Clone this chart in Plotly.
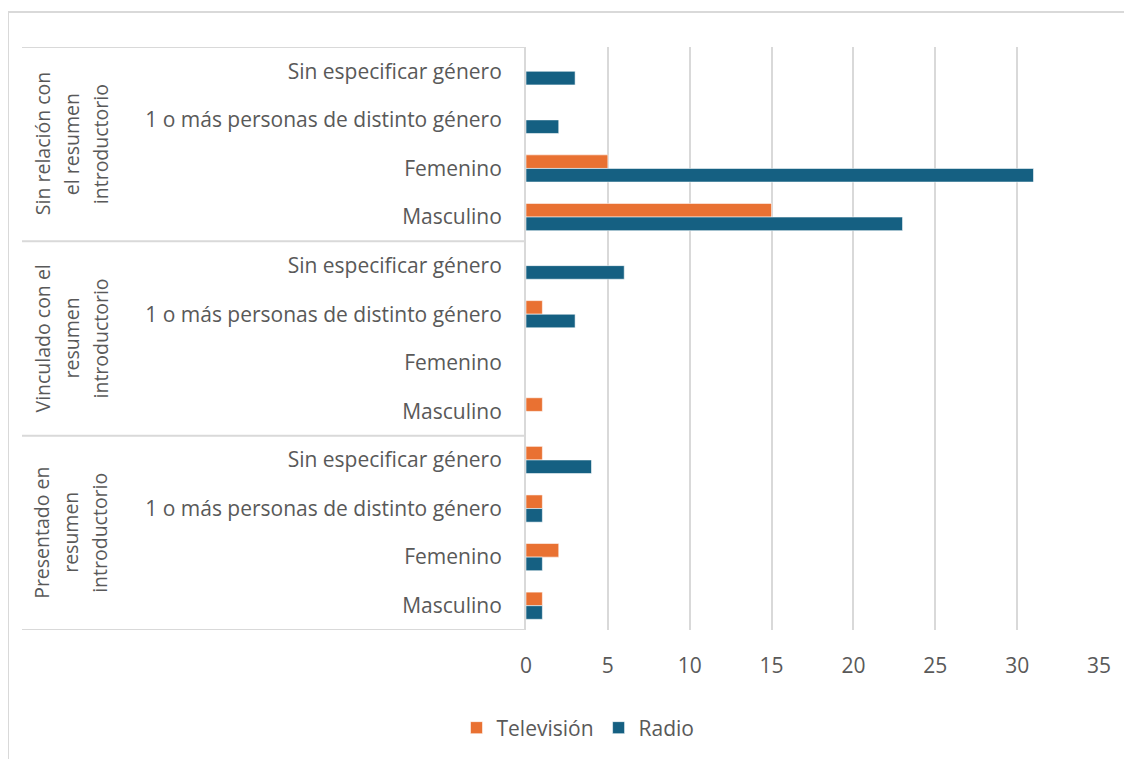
import plotly.graph_objects as go

# categories listed top to bottom, as they appear in the chart
group_lines = [
    ["Sin relación con", "el resumen", "introductorio"],
    ["Vinculado con el", "resumen", "introductorio"],
    ["Presentado en", "resumen", "introductorio"],
]
categories = [
    "Sin especificar género",
    "1 o más personas de distinto género",
    "Femenino",
    "Masculino",
]
television = [0, 0, 5, 15,   0, 1, 0, 1,   1, 1, 2, 1]
radio = [3, 2, 31, 23,   6, 3, 0, 0,   4, 1, 1, 1]
x_ticks = [0, 5, 10, 15, 20, 25, 30, 35]

ORANGE = "#E97132"
BLUE = "#156082"
GREY_TXT = "#595959"
GREY_LINE = "#D9D9D9"
FONT = "Open Sans"
FS = 21          # tick labels / legend
FS_GROUP = 19.5  # rotated group labels

n_cat = len(categories)
labels = [c for g in group_lines for c in categories]
ypos = list(range(len(labels)))

fig = go.Figure()
fig.add_trace(go.Bar(y=ypos, x=television, orientation="h", name="Televisión",
                     marker=dict(color=ORANGE, line=dict(color="rgba(255,255,255,0.7)", width=0.8))))
fig.add_trace(go.Bar(y=ypos, x=radio, orientation="h", name="Radio",
                     marker=dict(color=BLUE, line=dict(color="rgba(255,255,255,0.7)", width=0.8))))

# page body has an 8px margin, so work in screen pixels and shift
OFF = 8
W, H = 1132 - 2 * OFF, 767 - 2 * OFF
L, R, T, B = 526 - OFF, 1099 - OFF, 47 - OFF, 631 - OFF
def px_x(p):
    return (p - OFF - L) / (R - L)
def px_y(p):
    return (B - (p - OFF)) / (B - T)

shapes = []
# outer chart border (top and left visible)
shapes.append(dict(type="line", xref="paper", yref="paper", x0=px_x(8), x1=px_x(1140),
                   y0=px_y(12), y1=px_y(12), line=dict(color=GREY_LINE, width=2)))
shapes.append(dict(type="line", xref="paper", yref="paper", x0=px_x(8), x1=px_x(8),
                   y0=px_y(12), y1=px_y(780), line=dict(color=GREY_LINE, width=2)))
# category box separators
for k in range(len(group_lines) + 1):
    yb = k * n_cat - 0.5
    shapes.append(dict(type="line", xref="paper", yref="y", x0=px_x(22), x1=0,
                       y0=yb, y1=yb, line=dict(color=GREY_LINE, width=2)))

annotations = []
line_x = [42, 71, 100]
for i, lines in enumerate(group_lines):
    for j, txt in enumerate(lines):
        annotations.append(dict(text=txt, xref="paper", yref="y", x=px_x(line_x[j]),
                                y=i * n_cat + (n_cat - 1) / 2, textangle=-90, showarrow=False,
                                font=dict(family=FONT, size=FS_GROUP, color=GREY_TXT),
                                xanchor="center", yanchor="middle"))

fig.update_layout(
    width=W, height=H,
    margin=dict(l=L, r=W - R, t=T, b=H - B),
    paper_bgcolor="white", plot_bgcolor="white",
    barmode="group", bargap=0.44, bargroupgap=0,
    font=dict(family=FONT, size=FS, color=GREY_TXT),
    xaxis=dict(range=[0, 35], tickvals=x_ticks, showgrid=True, gridcolor=GREY_LINE,
               gridwidth=2, zeroline=False, showline=False, ticks="",
               ticklabelstandoff=21, fixedrange=True),
    yaxis=dict(range=[len(labels) - 0.5, -0.5], tickvals=ypos, ticktext=labels,
               showgrid=False, zeroline=False, showline=True, linecolor=GREY_LINE,
               linewidth=2, ticks="", ticklabelstandoff=18, fixedrange=True),
    legend=dict(orientation="h", x=px_x(578), xanchor="center", y=px_y(728),
                yanchor="middle", font=dict(size=FS), itemwidth=30),
    shapes=shapes,
    annotations=annotations,
    showlegend=True,
)

fig.write_html("out.html")
